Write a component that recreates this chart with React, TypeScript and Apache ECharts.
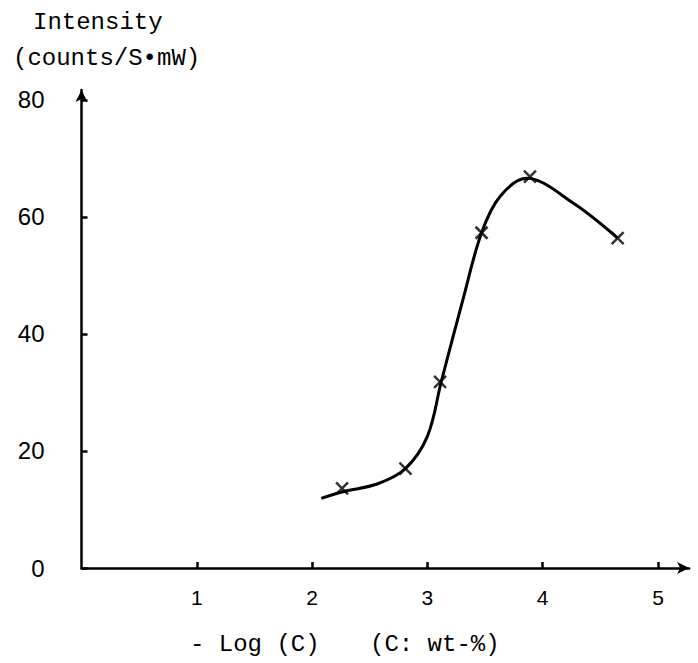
import React, { useEffect, useRef } from 'react';
import * as echarts from 'echarts';

// Smooth curve (x = -log C, y = intensity)
const curveX = [2.08, 2.26, 2.57, 2.81, 3.0, 3.12, 3.31, 3.47, 3.63, 3.86, 4.27, 4.65];
const curveY = [11.9, 13.0, 14.4, 17.0, 22.5, 31.8, 46.0, 57.3, 63.5, 66.6, 62.3, 56.4];

// Measured points (x markers)
const markX = [2.26, 2.81, 3.11, 3.47, 3.89, 4.65];
const markY = [13.6, 17.0, 31.8, 57.3, 66.9, 56.4];

const yTicks = [0, 20, 40, 60, 80];
const xTicks = [1, 2, 3, 4, 5];

const yTitle = ['Intensity', '(counts/S•mW)'];
const xTitle = ['- Log (C)', '(C: wt-%)'];

export default function App() {
  const ref = useRef<HTMLDivElement>(null);
  useEffect(() => {
    const chart = echarts.init(ref.current!, null, { renderer: 'svg' });
    const mono = '"Liberation Mono", "DejaVu Sans Mono", monospace';
    const sans = '"Liberation Sans", Arial, sans-serif';
    chart.setOption({
      animation: false,
      backgroundColor: '#ffffff',
      grid: { left: 81.5, right: 8.9, top: 90, bottom: 95 },
      xAxis: {
        type: 'value',
        min: 0,
        max: 5.27,
        interval: 1,
        axisLine: {
          show: true,
          onZero: false,
          lineStyle: { color: '#000', width: 2.5 },
          symbol: ['none', 'arrow'],
          symbolSize: [9, 12],
        },
        axisTick: { show: true, inside: true, length: 6, lineStyle: { color: '#000', width: 2.5 } },
        axisLabel: {
          color: '#000', fontSize: 21, fontFamily: sans, margin: 19,
          showMinLabel: false, showMaxLabel: false,
          formatter: (v: number) => (xTicks.includes(v) ? String(v) : ''),
        },
        splitLine: { show: false },
      },
      yAxis: {
        type: 'value',
        min: 0,
        max: 81.7,
        interval: 20,
        axisLine: {
          show: true,
          onZero: false,
          lineStyle: { color: '#000', width: 2.5 },
          symbol: ['none', 'arrow'],
          symbolSize: [9, 12],
        },
        axisTick: { show: true, inside: true, length: 6, lineStyle: { color: '#000', width: 2.5 } },
        axisLabel: {
          color: '#000', fontSize: 24, fontFamily: sans, margin: 37,
          showMaxLabel: false,
          formatter: (v: number) => (yTicks.includes(v) ? String(v) : ''),
        },
        splitLine: { show: false },
      },
      series: [
        {
          type: 'line',
          smooth: 0.35,
          showSymbol: false,
          symbol: 'none',
          data: curveX.map((x, i) => [x, curveY[i]]),
          lineStyle: { color: '#000', width: 3 },
          z: 2,
        },
        {
          type: 'scatter',
          symbol: 'path://M0,0L10,10M10,0L0,10',
          symbolSize: 12,
          data: markX.map((x, i) => [x, markY[i]]),
          itemStyle: { color: 'none', borderColor: '#000', borderWidth: 2.5 },
          z: 3,
        },
      ],
      graphic: [
        { type: 'text', left: 33, top: 10, style: { text: yTitle[0], font: `24px ${mono}`, fill: '#000' } },
        { type: 'text', left: 13, top: 46, style: { text: yTitle[1], font: `24px ${mono}`, fill: '#000' } },
        { type: 'text', left: 190, top: 632, style: { text: xTitle[0], font: `24px ${mono}`, fill: '#000' } },
        { type: 'text', left: 370, top: 632, style: { text: xTitle[1], font: `24px ${mono}`, fill: '#000' } },
      ],
    });
    return () => chart.dispose();
  }, []);
  return <div ref={ref} style={{ position: 'fixed', left: 0, top: 0, width: 698, height: 663 }} />;
}
